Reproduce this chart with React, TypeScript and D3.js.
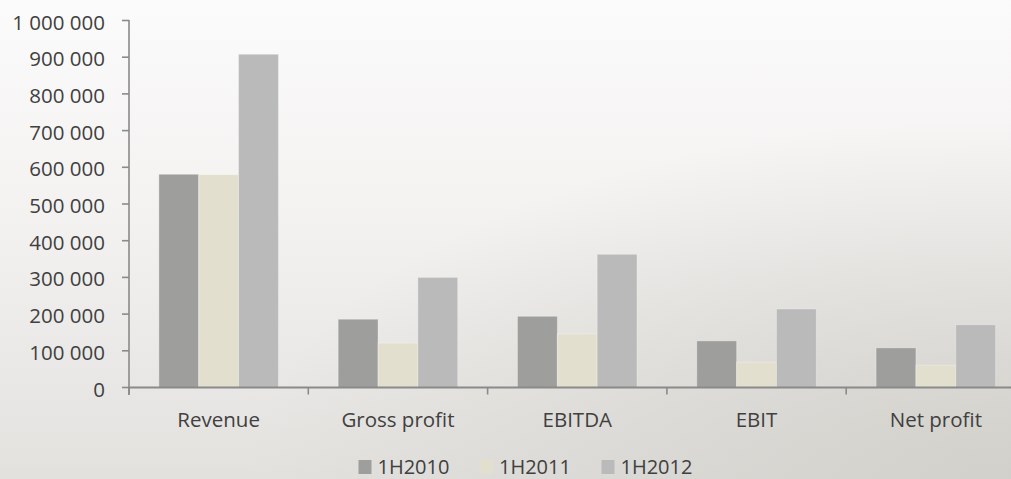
import React from "react";
import * as d3 from "d3";

// Key financials by half-year
const categories = ["Revenue", "Gross profit", "EBITDA", "EBIT", "Net profit"];
const seriesNames = ["1H2010", "1H2011", "1H2012"];
const values1H2010 = [581000, 186000, 194000, 127000, 108000];
const values1H2011 = [580000, 121000, 146000, 69000, 61000];
const values1H2012 = [908000, 300000, 363000, 214000, 171000];
const yTicks = [0, 100000, 200000, 300000, 400000, 500000, 600000, 700000, 800000, 900000, 1000000];

const seriesColors = ["#9e9e9c", "#e2dfcf", "#bababa"];

const W = 1011;
const H = 479;
const FONT = "'Open Sans', 'DejaVu Sans', sans-serif";
const TEXT = "#404040";
const AXIS = "#8a8a8a";

export default function App() {
  const seriesValues = [values1H2010, values1H2011, values1H2012];

  const y = d3.scaleLinear().domain([0, 1000000]).range([387.5, 20.5]);
  // the category axis runs past the right edge of the frame
  const x = d3.scaleBand<string>().domain(categories).range([129, 1025.5]).padding(0);
  const xs = d3
    .scaleBand<string>()
    .domain(seriesNames)
    .range([0, x.bandwidth()])
    .paddingInner(0)
    .paddingOuter(0.75);

  const fmt = (v: number) => d3.format(",")(v).replace(/,/g, " ");
  const legendX = d3.scaleLinear().domain([0, 1]).range([358.5, 480]);

  const boundaries = categories.map((c) => x(c) as number).concat([x.range()[1]]);

  return (
    <svg
      width={W}
      height={H}
      style={{ position: "absolute", left: 0, top: 0, display: "block" }}
      fontFamily={FONT}
    >
      <defs>
        <linearGradient id="bgV" x1="0" y1="0" x2="0" y2="1">
          <stop offset="0" stopColor="#fcfbfb" />
          <stop offset="0.45" stopColor="#f3f2f1" />
          <stop offset="1" stopColor="#e2e1de" />
        </linearGradient>
        <radialGradient id="bgR" cx="1" cy="1" r="0.75" fx="1" fy="1">
          <stop offset="0" stopColor="#cfcdc7" stopOpacity="0.85" />
          <stop offset="1" stopColor="#cfcdc7" stopOpacity="0" />
        </radialGradient>
      </defs>
      <rect x={0} y={0} width={W} height={H} fill="url(#bgV)" />
      <rect x={0} y={0} width={W} height={H} fill="url(#bgR)" />

      {/* bars */}
      {categories.map((c, ci) => (
        <g key={c} transform={`translate(${x(c)},0)`}>
          {seriesNames.map((s, si) => {
            const v = seriesValues[si][ci];
            const top = y(v);
            return (
              <rect
                key={s}
                x={xs(s)}
                y={top}
                width={xs.bandwidth()}
                height={y(0) - top}
                fill={seriesColors[si]}
                stroke="#ffffff"
                strokeOpacity={0.3}
                strokeWidth={1}
              />
            );
          })}
        </g>
      ))}

      {/* value axis */}
      <line x1={129} x2={129} y1={20} y2={395} stroke={AXIS} strokeWidth={1.6} />
      {yTicks.map((t) => (
        <g key={t}>
          <line x1={122} x2={129} y1={y(t)} y2={y(t)} stroke={AXIS} strokeWidth={1.6} />
          <text
            x={105}
            y={y(t) + 9}
            textAnchor="end"
            fontSize={20.5}
            fill={TEXT}
          >
            {fmt(t)}
          </text>
        </g>
      ))}

      {/* category axis */}
      <line x1={128} x2={W} y1={y(0)} y2={y(0)} stroke={AXIS} strokeWidth={1.8} />
      {boundaries.map((b, i) => (
        <line key={i} x1={b} x2={b} y1={y(0)} y2={y(0) + 7} stroke={AXIS} strokeWidth={1.6} />
      ))}
      {categories.map((c) => (
        <text
          key={c}
          x={(x(c) as number) + x.bandwidth() / 2}
          y={427}
          textAnchor="middle"
          fontSize={20.5}
          fill={TEXT}
        >
          {c}
        </text>
      ))}

      {/* legend */}
      {seriesNames.map((s, i) => {
        const lx = legendX(i);
        return (
          <g key={s}>
            <rect x={lx} y={460} width={13} height={14} fill={seriesColors[i]} />
            <text x={lx + 19} y={474} fontSize={20} fill={TEXT}>
              {s}
            </text>
          </g>
        );
      })}
    </svg>
  );
}
